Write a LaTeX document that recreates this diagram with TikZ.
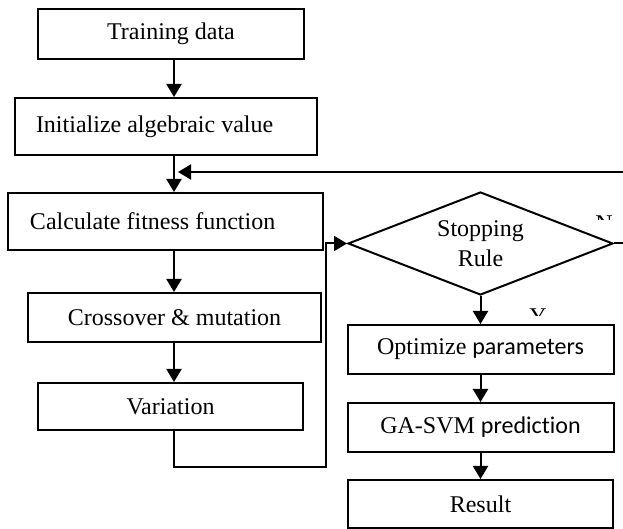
\documentclass[tikz,border=0pt]{standalone}
\usepackage{fontspec}
\setmainfont{Liberation Serif}
\newfontfamily\calibrifont[Ligatures=NoCommon]{Carlito}
\usetikzlibrary{arrows.meta,shapes.geometric}
\tikzset{
  box/.style={draw,line width=1pt,inner sep=0pt,align=center,font=\fontsize{12}{15}\selectfont},
  lbox/.style={draw,line width=1pt,inner ysep=0pt,align=flush left,font=\fontsize{12}{15}\selectfont},
  arr/.style={line width=1pt,-{Triangle[length=6.5pt,width=7.5pt]}},
  ln/.style={line width=1pt},
  cutlbl/.style={inner sep=0pt,anchor=north,font=\fontsize{12}{15}\selectfont}
}
\begin{document}
\begin{tikzpicture}[x=0.5pt,y=-0.5pt]
\useasboundingbox (0,0) rectangle (623,529);
\coordinate (ax) at (174,0);
% left column
\node[box,minimum width=133pt,minimum height=25pt] (train) at (171,34) {Training data};
\node[lbox,minimum height=28.5pt,inner xsep=10.5pt,text width=130pt] (init) at (166,126.5) {Initialize algebraic value};
\node[lbox,minimum height=28.5pt,inner xsep=11pt,text width=135.5pt] (calc) at (165.5,221.5) {Calculate fitness function};
\node[box,minimum width=146.5pt,minimum height=24.5pt] (cross) at (174.5,317.5) {Crossover \& mutation};
\node[box,minimum width=132.5pt,minimum height=23.5pt] (var) at (170.5,406.5) {Variation};
% right column
\node[draw,line width=1pt,diamond,shape aspect=2.57,inner sep=0pt,minimum width=132.5pt,minimum height=51.5pt,align=center,font=\fontsize{12}{15}\selectfont] (stop) at (480.5,243.5) {Stopping\\Rule};
\node[box,minimum width=133pt,minimum height=24.5pt] (opt) at (480.5,349.5) {Optimize {\calibrifont parameters}};
\node[box,minimum width=133pt,minimum height=24.5pt] (ga) at (480.5,427.5) {GA-SVM {\calibrifont prediction}};
\node[box,minimum width=132.5pt,minimum height=24pt] (res) at (480.5,504) {Result};
% connectors
\draw[arr] (train.south -| ax) -- (init.north -| ax);
\draw[arr] (init.south -| ax) -- (calc.north -| ax);
\draw[arr] (calc.south -| ax) -- (cross.north -| ax);
\draw[arr] (cross.south -| ax) -- (var.north -| ax);
\coordinate (loopB) at (326,467);
\draw[arr] (var.south -| ax) |- (loopB) |- (stop.west);
\draw[arr] (stop.south) -- (opt.north);
\draw[arr] (opt.south) -- (ga.north);
\draw[arr] (ga.south) -- (res.north);
\coordinate (fbR) at (623,172);
\coordinate (fbL) at (178,172);
\draw[arr] (fbR) -- (fbL);
\coordinate (noR) at (623,243.5);
\draw[ln] (stop.east) -- (noR);
% cut-off labels
\begin{scope}
\clip (590,212) rectangle (620,219.5);
\node[cutlbl] (nlab) at (604,215) {N};
\end{scope}
\begin{scope}
\clip (525,305) rectangle (552,316);
\node[cutlbl] (ylab) at (538,308) {Y};
\end{scope}
\end{tikzpicture}
\end{document}
